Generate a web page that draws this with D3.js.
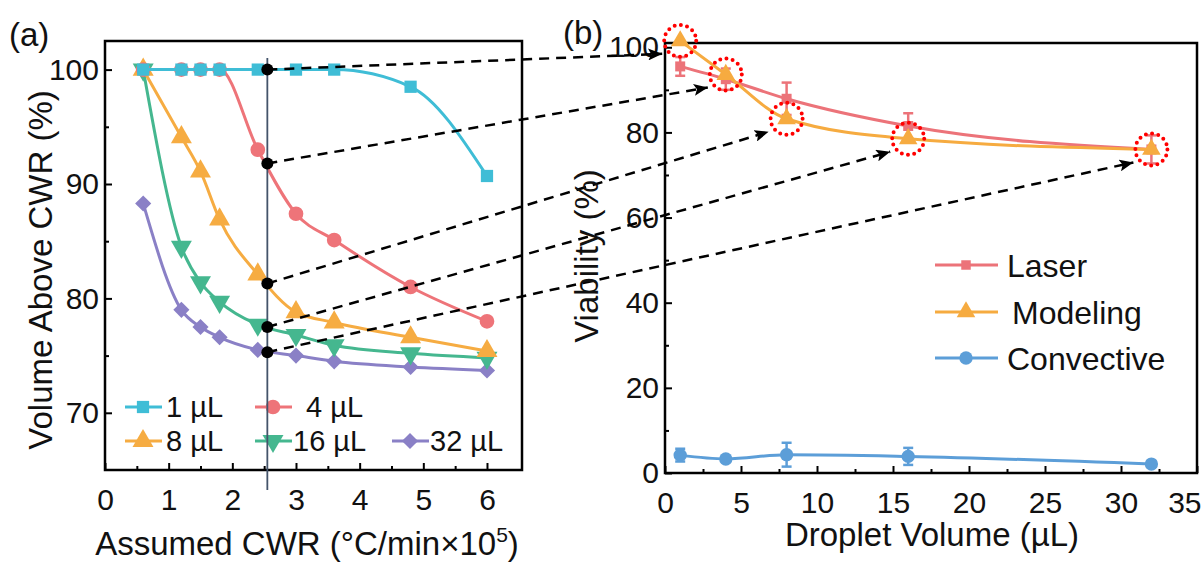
<!DOCTYPE html>
<html>
<head>
<meta charset="utf-8"/>
<style>
  body { margin: 0; background: #fff; }
  svg { display: block; font-family: "Liberation Sans", Arial, sans-serif; }
</style>
</head>
<body>
<svg id="chart" width="1204" height="563"></svg>
<script src="https://d3js.org/d3.v7.min.js"></script>
<script>
// ---- panel (a): volume above CWR vs assumed CWR ----
var cwrValues = [0.6, 1.2, 1.5, 1.8, 2.4, 3.0, 3.6, 4.8, 6.0];
var volumeNames = ['1 µL', '4 µL', '8 µL', '16 µL', '32 µL'];
var vol1 = [100, 100, 100, 100, 100, 100, 100, 98.5, 90.7];
var vol4 = [100, 100, 100, 100, 93.0, 87.4, 85.1, 81.0, 78.0];
var vol8 = [100, 94.1, 91.1, 86.9, 82.1, 78.8, 77.9, 76.6, 75.4];
var vol16 = [100, 84.5, 81.4, 79.7, 77.7, 76.8, 75.9, 75.2, 74.8];
var vol32 = [88.3, 79.0, 77.5, 76.6, 75.5, 75.0, 74.5, 74.0, 73.7];
var markerCwr = 2.55;// the vertical reference line
var markerValues = [100, 91.8, 81.3, 77.5, 75.3];
var aXTicks = [0, 1, 2, 3, 4, 5, 6];
var aYTicks = [70, 80, 90, 100];

// ---- panel (b): viability vs droplet volume ----
var dropletVolumes = [1, 4, 8, 16, 32];
var laserMean = [95.5, 92.5, 87.9, 81.5, 76.0];
var laserErr = [2.2, 2.5, 3.8, 3.0, 3.3];
var modelingMean = [101.5, 93.6, 83.2, 78.5, 76.0];
var convectiveMean = [4.2, 3.3, 4.3, 3.9, 2.1];
var convectiveErr = [1.5, 0.6, 2.8, 2.0, 0.6];
var methodNames = ['Laser', 'Modeling', 'Convective'];
var bXTicks = [0, 5, 10, 15, 20, 25, 30, 35];
var bYTicks = [0, 20, 40, 60, 80, 100];

var config = {
  tickFont: 30,
  legendFontA: 29,
  legendFontB: 32,
  titleFont: 33,
  lineWidth: 3,
  frameWidth: 2.5,
  colors: {
    v1: '#3fbdd6', v4: '#ee7479', v8: '#f6ac42', v16: '#45b78f', v32: '#8a80c6',
    laser: '#ec7379', modeling: '#f6ab40', convective: '#5c9ed8'
  }
};

var svg = d3.select('#chart');

// scales
var xa = d3.scaleLinear().domain([0, 6.55]).range([105, 522]);
var ya = d3.scaleLinear().domain([65, 102.5]).range([470, 41]);
var xb = d3.scaleLinear().domain([0, 35]).range([665, 1197]);
var yb = d3.scaleLinear().domain([0, 101]).range([473, 43]);

// axes with inward ticks, frame drawn as a rect
function drawAxes(x, y, xTicks, yTicks, xMinor, yMinor) {
  var x0 = x.range()[0], x1 = x.range()[1], y0 = y.range()[0], y1 = y.range()[1];
  var gx = svg.append('g').attr('transform', 'translate(0,' + y0 + ')')
    .call(d3.axisBottom(x).tickValues(xTicks).tickFormat(d3.format('d'))
      .tickSizeInner(-7).tickSizeOuter(0).tickPadding(19));
  var gxm = svg.append('g').attr('transform', 'translate(0,' + y0 + ')')
    .call(d3.axisBottom(x).tickValues(xMinor).tickSize(-4).tickFormat(''));
  var gy = svg.append('g').attr('transform', 'translate(' + x0 + ',0)')
    .call(d3.axisLeft(y).tickValues(yTicks).tickFormat(d3.format('d'))
      .tickSizeInner(-7).tickSizeOuter(0).tickPadding(6));
  var gym = svg.append('g').attr('transform', 'translate(' + x0 + ',0)')
    .call(d3.axisLeft(y).tickValues(yMinor).tickSize(-4).tickFormat(''));
  [gx, gxm, gy, gym].forEach(function(g) {
    g.select('.domain').remove();
    g.selectAll('line').attr('stroke', '#000').attr('stroke-width', 2);
    g.selectAll('text').attr('font-size', config.tickFont).attr('fill', '#111');
    g.attr('font-family', null);
  });
  svg.append('rect')
    .attr('x', x0).attr('y', y1).attr('width', x1 - x0).attr('height', y0 - y1)
    .attr('fill', 'none').attr('stroke', '#000').attr('stroke-width', config.frameWidth);
  return gx;
}

drawAxes(xa, ya, aXTicks, aYTicks, d3.range(0.5, 6.5, 1), [75, 85, 95]);
var gbx = drawAxes(xb, yb, bXTicks, bYTicks, d3.range(2.5, 35, 5), [10, 30, 50, 70, 90]);
// last x label in (b) is pushed inside the picture
gbx.selectAll('.tick text').filter(function(d) { return d === 35; })
  .attr('text-anchor', 'end').attr('dx', 4);

// symbol helper
function symbolPath(kind, size) {
  if (kind === 'circle') return d3.symbol().type(d3.symbolCircle).size(size)();
  if (kind === 'triangle' || kind === 'down') return d3.symbol().type(d3.symbolTriangle).size(size)();
  return d3.symbol().type(d3.symbolSquare).size(size)();// square and diamond
}
function symbolRotate(kind) {
  if (kind === 'down') return 180;
  if (kind === 'diamond') return 45;
  return 0;
}
function drawMarker(g, kind, size, color, px, py) {
  g.append('path')
    .attr('d', symbolPath(kind, size))
    .attr('fill', color)
    .attr('transform', 'translate(' + px + ',' + py + ') rotate(' + symbolRotate(kind) + ')');
}

// ---- panel (a) series ----
var aSeries = [
  { name: volumeNames[0], values: vol1, color: config.colors.v1, kind: 'square', size: 150 },
  { name: volumeNames[1], values: vol4, color: config.colors.v4, kind: 'circle', size: 170 },
  { name: volumeNames[2], values: vol8, color: config.colors.v8, kind: 'triangle', size: 190 },
  { name: volumeNames[3], values: vol16, color: config.colors.v16, kind: 'down', size: 190 },
  { name: volumeNames[4], values: vol32, color: config.colors.v32, kind: 'diamond', size: 130 }
];
var lineA = d3.line().curve(d3.curveMonotoneX)
  .x(function(d) { return xa(d[0]); })
  .y(function(d) { return ya(d[1]); });

// draw in reverse so the 1 µL / 4 µL marks sit on top as in the original
aSeries.slice().reverse().forEach(function(s) {
  var pts = cwrValues.map(function(c, i) { return [c, s.values[i]]; });
  var g = svg.append('g');
  g.append('path').attr('d', lineA(pts)).attr('fill', 'none')
    .attr('stroke', s.color).attr('stroke-width', config.lineWidth);
  pts.forEach(function(p) { drawMarker(g, s.kind, s.size, s.color, xa(p[0]), ya(p[1])); });
});

// legend (a)
var legendA = [
  { s: aSeries[0], x: 125, y: 407, tx: 166 }, { s: aSeries[1], x: 255, y: 407, tx: 306 },
  { s: aSeries[2], x: 125, y: 441, tx: 166 }, { s: aSeries[3], x: 255, y: 441, tx: 293 },
  { s: aSeries[4], x: 392, y: 441, tx: 430 }
];
legendA.forEach(function(l) {
  var g = svg.append('g');
  g.append('line').attr('x1', l.x).attr('x2', l.x + 37).attr('y1', l.y).attr('y2', l.y)
    .attr('stroke', l.s.color).attr('stroke-width', config.lineWidth);
  drawMarker(g, l.s.kind, l.s.size, l.s.color, l.x + 18, l.y);
  g.append('text').attr('x', l.tx).attr('y', l.y).attr('dy', '0.36em')
    .attr('font-size', config.legendFontA).attr('fill', '#111').text(l.s.name);
});

// vertical reference line
svg.append('line')
  .attr('x1', xa(markerCwr)).attr('x2', xa(markerCwr))
  .attr('y1', 58).attr('y2', 490)
  .attr('stroke', '#44546a').attr('stroke-width', 1.8);

// ---- panel (b) series ----
var lineB = d3.line().curve(d3.curveMonotoneX)
  .x(function(d) { return xb(d[0]); })
  .y(function(d) { return yb(d[1]); });

var bSeries = [
  { name: methodNames[2], mean: convectiveMean, err: convectiveErr, color: config.colors.convective, kind: 'circle', size: 140 },
  { name: methodNames[0], mean: laserMean, err: laserErr, color: config.colors.laser, kind: 'square', size: 100 },
  { name: methodNames[1], mean: modelingMean, err: null, color: config.colors.modeling, kind: 'triangle', size: 150 }
];
bSeries.forEach(function(s) {
  var pts = dropletVolumes.map(function(v, i) { return [v, s.mean[i]]; });
  var g = svg.append('g');
  g.append('path').attr('d', lineB(pts)).attr('fill', 'none')
    .attr('stroke', s.color).attr('stroke-width', config.lineWidth);
  if (s.err) {
    pts.forEach(function(p, i) {
      var top = yb(p[1] + s.err[i]), bot = yb(p[1] - s.err[i]), cx = xb(p[0]);
      g.append('line').attr('x1', cx).attr('x2', cx).attr('y1', top).attr('y2', bot)
        .attr('stroke', s.color).attr('stroke-width', 2.5);
      [top, bot].forEach(function(yy) {
        g.append('line').attr('x1', cx - 5).attr('x2', cx + 5).attr('y1', yy).attr('y2', yy)
          .attr('stroke', s.color).attr('stroke-width', 2.5);
      });
    });
  }
  pts.forEach(function(p) { drawMarker(g, s.kind, s.size, s.color, xb(p[0]), yb(p[1])); });
});

// legend (b)
var legendB = [
  { s: bSeries[1], y: 265, tx: 1007 },
  { s: bSeries[2], y: 312, tx: 1012 },
  { s: bSeries[0], y: 358, tx: 1007 }
];
legendB.forEach(function(l) {
  var g = svg.append('g');
  g.append('line').attr('x1', 935).attr('x2', 998).attr('y1', l.y).attr('y2', l.y)
    .attr('stroke', l.s.color).attr('stroke-width', config.lineWidth);
  drawMarker(g, l.s.kind, l.s.kind === 'square' ? 90 : l.s.size, l.s.color, 966, l.y);
  g.append('text').attr('x', l.tx).attr('y', l.y).attr('dy', '0.36em')
    .attr('font-size', config.legendFontB).attr('fill', '#111').text(l.s.name);
});

// red dotted circles round the modeling points
dropletVolumes.forEach(function(v, i) {
  svg.append('circle')
    .attr('cx', xb(v)).attr('cy', yb(modelingMean[i])).attr('r', 16)
    .attr('fill', 'none').attr('stroke', '#ff0000').attr('stroke-width', 4)
    .attr('stroke-dasharray', '0 6.3').attr('stroke-linecap', 'round');
});

// dashed arrows from the picked points in (a) to the circled points in (b)
svg.append('defs').append('marker')
  .attr('id', 'arrow').attr('markerUnits', 'userSpaceOnUse')
  .attr('viewBox', '0 0 14 12').attr('refX', 14).attr('refY', 6)
  .attr('markerWidth', 14).attr('markerHeight', 12).attr('orient', 'auto')
  .append('path').attr('d', 'M0,0 L14,6 L0,12 L3,6 Z').attr('fill', '#000');

markerValues.forEach(function(v, i) {
  var sx = xa(markerCwr), sy = ya(v);
  var ex = xb(dropletVolumes[i]) - 18, ey = yb(modelingMean[i]) + 13;
  svg.append('line')
    .attr('x1', sx).attr('y1', sy).attr('x2', ex).attr('y2', ey)
    .attr('stroke', '#000').attr('stroke-width', 2.5)
    .attr('stroke-dasharray', '10 7')
    .attr('marker-end', 'url(#arrow)');
  svg.append('circle').attr('cx', sx).attr('cy', sy).attr('r', 6).attr('fill', '#000');
});

// titles and panel labels
svg.append('text').attr('x', 307).attr('y', 555).attr('text-anchor', 'middle')
  .attr('font-size', config.titleFont).attr('fill', '#111')
  .html('Assumed CWR (°C/min×10<tspan dy="-13" font-size="21">5</tspan><tspan dy="13">)</tspan>');
svg.append('text').attr('transform', 'translate(52,270) rotate(-90)').attr('text-anchor', 'middle')
  .attr('font-size', config.titleFont).attr('fill', '#111').text('Volume Above CWR (%)');
svg.append('text').attr('x', 932).attr('y', 546).attr('text-anchor', 'middle')
  .attr('font-size', config.titleFont).attr('fill', '#111').text('Droplet Volume (µL)');
svg.append('text').attr('transform', 'translate(598,256) rotate(-90)').attr('text-anchor', 'middle')
  .attr('font-size', config.titleFont).attr('fill', '#111').text('Viability (%)');
svg.append('text').attr('x', 9).attr('y', 46).attr('font-size', config.titleFont).attr('fill', '#111').text('(a)');
svg.append('text').attr('x', 563).attr('y', 44).attr('font-size', config.titleFont).attr('fill', '#111').text('(b)');
</script>
</body>
</html>
